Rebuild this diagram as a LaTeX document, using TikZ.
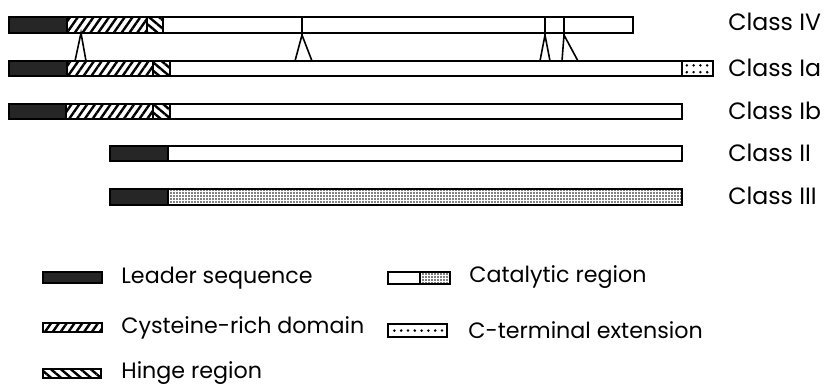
\documentclass[tikz,border=0pt]{standalone}
\usepackage{fontspec}
\setmainfont{Poppins}
\usetikzlibrary{patterns.meta}

\tikzset{
    leader/.style={draw, line width=0.9pt, fill=black!85},
    cysteine/.style={draw, line width=0.9pt, pattern={Lines[angle=55,distance=3.2pt,line width=1.2pt]}},
    hinge/.style={draw, line width=0.9pt, pattern={Lines[angle=-40,distance=3.2pt,line width=1.2pt]}},
    catalytic/.style={draw, line width=0.9pt, fill=white},
    catdots/.style={draw, line width=0.9pt, pattern={Dots[radius=0.45pt,distance=1.5pt]}},
    cterm/.style={draw, line width=0.9pt, pattern={Dots[radius=0.7pt,distance=3.4pt]}},
    classname/.style={anchor=west, inner sep=0pt, font=\fontsize{11.8}{13}\selectfont},
    legendtext/.style={anchor=west, inner sep=0pt, font=\fontsize{11.1}{13}\selectfont},
    link/.style={line width=0.8pt},
}

\begin{document}
\begin{tikzpicture}[x=0.5pt, y=-0.5pt]
    \useasboundingbox (0,0) rectangle (827,385);

    % Class IV
    \foreach \a/\b/\s in {9/67/leader, 67/147/cysteine, 147/163/hinge, 163/633/catalytic}
        \draw[\s] (\a,17) rectangle (\b,33);
    \node[classname] (c4) at (728,22) {Class IV};

    % Class Ia
    \foreach \a/\b/\s in {9/67/leader, 67/153/cysteine, 153/170/hinge, 170/682/catalytic, 682/713/cterm}
        \draw[\s] (\a,61) rectangle (\b,76);
    \node[classname] (c1a) at (728,68) {Class Ia};

    % Class Ib
    \foreach \a/\b/\s in {9/66/leader, 66/153/cysteine, 153/170/hinge, 170/682/catalytic}
        \draw[\s] (\a,104) rectangle (\b,119);
    \node[classname] (c1b) at (728,111) {Class Ib};

    % Class II
    \foreach \a/\b/\s in {110/168/leader, 168/682/catalytic}
        \draw[\s] (\a,146) rectangle (\b,161);
    \node[classname] (c2) at (728,153) {Class II};

    % Class III
    \foreach \a/\b/\s in {110/168/leader, 168/682/catdots}
        \draw[\s] (\a,189) rectangle (\b,205);
    \node[classname] (c3) at (728,196) {Class III};

    % Links between IV and Ia
    \coordinate (k1) at (81,33);
    \coordinate (k1l) at (75,61);
    \coordinate (k1r) at (86,61);
    \draw[link] (k1l) -- (k1) -- (k1r);
    \foreach \n/\x/\l/\r in {2/302/295/312, 3/545/540/550, 4/564/562/578} {
        \coordinate (k\n t) at (\x,17);
        \coordinate (k\n) at (\x,35);
        \coordinate (k\n l) at (\l,61);
        \coordinate (k\n r) at (\r,61);
        \draw[link] (k\n t) -- (k\n);
        \draw[link] (k\n l) -- (k\n) -- (k\n r);
    }

    % Legend
    \draw[leader] (43,272) rectangle (102,283);
    \node[legendtext] (leg1) at (121,278) {Leader sequence};
    \draw[cysteine] (43,323) rectangle (102,332);
    \node[legendtext] (leg2) at (121,328) {Cysteine-rich domain};
    \draw[hinge] (43,369) rectangle (101,378);
    \node[legendtext] (leg3) at (121,373) {Hinge region};
    \draw[catalytic] (388,272) rectangle (420,284);
    \draw[catdots] (420,272) rectangle (450,284);
    \node[legendtext] (leg4) at (469,277) {Catalytic region};
    \draw[cterm] (388,324) rectangle (447,337);
    \node[legendtext] (leg5) at (468,330) {C-terminal extension};
\end{tikzpicture}
\end{document}
